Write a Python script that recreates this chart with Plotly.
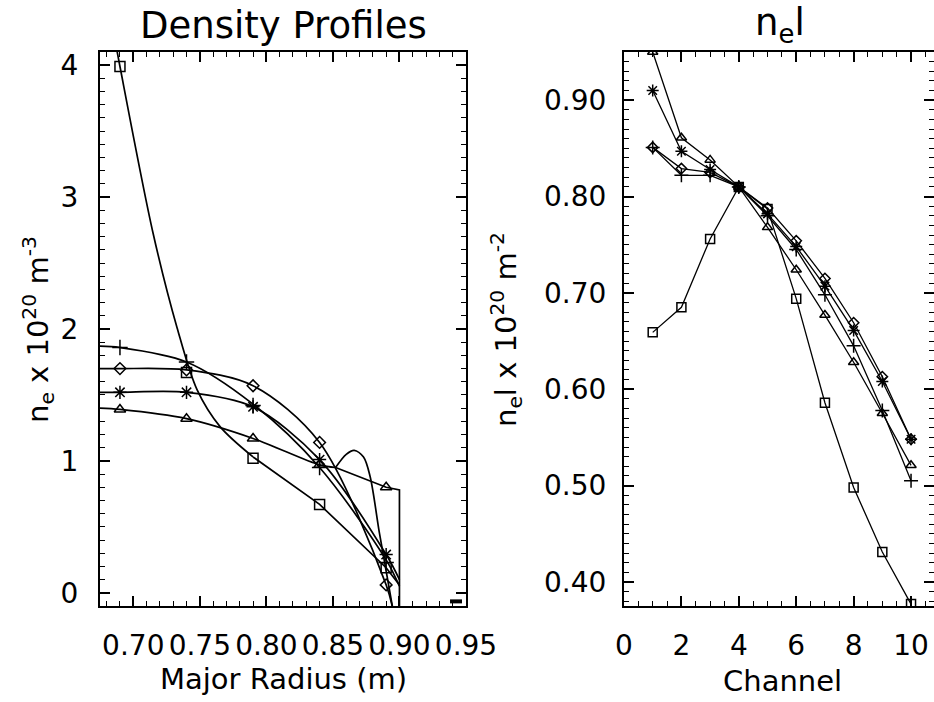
import plotly.graph_objects as go

# ---------------- Left panel: density profiles ----------------
radius = [0.69, 0.74, 0.79, 0.84, 0.89]
dens_square = [3.99, 1.67, 1.02, 0.67, 0.19]
dens_diamond = [1.70, 1.69, 1.57, 1.14, 0.06]
dens_star = [1.52, 1.52, 1.41, 1.01, 0.29]
dens_triangle = [1.39, 1.32, 1.17, 0.97, 0.80]
dens_plus = [1.86, 1.75, 1.42, 0.95, 0.23]

# fitted profile curves (knots)
fit_plus_r = [0.675, 0.69, 0.74, 0.79, 0.84, 0.89, 0.90]
fit_plus_n = [1.87, 1.86, 1.75, 1.43, 0.95, 0.25, 0.05]
fit_diamond_r = [0.675, 0.69, 0.74, 0.79, 0.84, 0.89, 0.895]
fit_diamond_n = [1.70, 1.70, 1.69, 1.57, 1.14, 0.06, -0.12]
fit_star_r = [0.675, 0.69, 0.74, 0.79, 0.84, 0.89, 0.90]
fit_star_n = [1.52, 1.52, 1.52, 1.41, 1.01, 0.29, 0.10]
fit_tri_r = [0.675, 0.69, 0.74, 0.79, 0.84, 0.852]
fit_tri_n = [1.40, 1.39, 1.32, 1.17, 0.97, 0.95]
tail_tri_r = [0.852, 0.89, 0.90, 0.90]
tail_tri_n = [0.95, 0.80, 0.78, -0.12]
bump_r = [0.852, 0.860, 0.866, 0.873, 0.878, 0.885, 0.895]
bump_n = [0.95, 1.05, 1.08, 1.03, 0.88, 0.45, -0.12]
fit_sq_r = [0.687, 0.69, 0.7148, 0.7329, 0.7479, 0.7652, 0.79]
fit_sq_n = [4.15, 3.99, 2.73, 2.01, 1.54, 1.26, 1.03]
tail_sq_r = [0.79, 0.84, 0.89, 0.90]
tail_sq_n = [1.03, 0.67, 0.19, 0.06]
blob_r = [0.938, 0.947]
blob_n = [-0.065, -0.065]

# ---------------- Right panel: line integrated density ----------------
channel = [1, 2, 3, 4, 5, 6, 7, 8, 9, 10]
nl_square = [0.659, 0.685, 0.756, 0.810, 0.787, 0.694, 0.586, 0.498, 0.431, 0.377]
nl_triangle = [0.950, 0.861, 0.838, 0.810, 0.768, 0.724, 0.677, 0.628, 0.575, 0.521]
nl_star = [0.910, 0.847, 0.828, 0.810, 0.782, 0.748, 0.707, 0.661, 0.608, 0.548]
nl_diamond = [0.851, 0.829, 0.825, 0.810, 0.788, 0.754, 0.715, 0.669, 0.613, 0.548]
nl_plus = [0.851, 0.822, 0.822, 0.810, 0.780, 0.745, 0.698, 0.645, 0.578, 0.505]

FONT = "DejaVu Sans"
BLACK = "black"

fig = go.Figure()

def curve(x, y, xa, ya, shape="spline"):
    fig.add_trace(go.Scatter(x=x, y=y, mode="lines", xaxis=xa, yaxis=ya,
                             line=dict(color=BLACK, width=1.7, shape=shape, smoothing=0.9),
                             showlegend=False, hoverinfo="skip"))

def marks(x, y, sym, size, xa, ya, mode="markers"):
    fig.add_trace(go.Scatter(x=x, y=y, mode=mode, xaxis=xa, yaxis=ya,
                             line=dict(color=BLACK, width=1.3),
                             marker=dict(symbol=sym, size=size, color=BLACK,
                                         line=dict(color=BLACK, width=1.5)),
                             showlegend=False))

# left curves
curve(fit_plus_r, fit_plus_n, "x", "y")
curve(fit_diamond_r, fit_diamond_n, "x", "y")
curve(fit_star_r, fit_star_n, "x", "y")
curve(fit_tri_r, fit_tri_n, "x", "y")
curve(tail_tri_r, tail_tri_n, "x", "y", shape="linear")
curve(bump_r, bump_n, "x", "y")
curve(fit_sq_r, fit_sq_n, "x", "y")
curve(tail_sq_r, tail_sq_n, "x", "y", shape="linear")
fig.add_trace(go.Scatter(x=blob_r, y=blob_n, mode="lines", line=dict(color=BLACK, width=4),
                         showlegend=False, hoverinfo="skip"))

# left markers
marks(radius, dens_square, "square-open", 10, "x", "y")
marks(radius, dens_diamond, "diamond-open", 9, "x", "y")
marks(radius, dens_star, "asterisk-open", 11, "x", "y")
marks(radius, dens_triangle, "triangle-up-open", 10, "x", "y")
marks(radius, dens_plus, "cross-thin-open", 11, "x", "y")

# right panel
marks(channel, nl_square, "square-open", 9, "x2", "y2", mode="lines+markers")
marks(channel, nl_triangle, "triangle-up-open", 9, "x2", "y2", mode="lines+markers")
marks(channel, nl_star, "asterisk-open", 10, "x2", "y2", mode="lines+markers")
marks(channel, nl_diamond, "diamond-open", 8, "x2", "y2", mode="lines+markers")
marks(channel, nl_plus, "cross-thin-open", 10, "x2", "y2", mode="lines+markers")

W, H = 934, 702
def px(x):
    return x / W
def py(y):
    return 1 - y / H

axis_common = dict(showline=True, linecolor=BLACK, linewidth=2, mirror="ticks",
                   ticks="inside", ticklen=10, tickwidth=1.5, tickcolor=BLACK,
                   showgrid=False, zeroline=False, automargin=False,
                   tickfont=dict(family=FONT, size=28, color=BLACK))

fig.update_layout(
    width=W, height=H,
    margin=dict(l=0, r=0, t=0, b=0),
    paper_bgcolor="white", plot_bgcolor="white",
    font=dict(family=FONT, color=BLACK),
    xaxis=dict(domain=[px(100), px(466)], range=[0.675, 0.95], tickvals=[0.70, 0.75, 0.80, 0.85, 0.90, 0.95],
               ticktext=["0.70", "0.75", "0.80", "0.85", "0.90", "0.95"], ticklabelstandoff=13,
               minor=dict(dtick=0.01, ticklen=5, tickcolor=BLACK, ticks="inside", tickwidth=1.2),
               anchor="y", **axis_common),
    yaxis=dict(domain=[py(606), py(52)], range=[-0.1, 4.1], tickvals=[0, 1, 2, 3, 4],
               ticklabelstandoff=14,
               minor=dict(dtick=0.1, ticklen=5, tickcolor=BLACK, ticks="inside", tickwidth=1.2),
               anchor="x", **axis_common),
    xaxis2=dict(domain=[px(624), 1.0], range=[0, 10.8], tickvals=[0, 2, 4, 6, 8, 10],
                ticklabelstandoff=13,
                minor=dict(dtick=0.5, ticklen=5, tickcolor=BLACK, ticks="inside", tickwidth=1.2),
                anchor="y2", **axis_common),
    yaxis2=dict(domain=[py(606), py(52)], range=[0.375, 0.95],
                tickvals=[0.40, 0.50, 0.60, 0.70, 0.80, 0.90],
                ticktext=["0.40", "0.50", "0.60", "0.70", "0.80", "0.90"], ticklabelstandoff=10,
                minor=dict(dtick=0.01, ticklen=5, tickcolor=BLACK, ticks="inside", tickwidth=1.2),
                anchor="x2", **axis_common),
)

ann = [
    dict(text="Density Profiles", x=px(283), y=py(25), size=37, angle=0),
    dict(text="n<sub>e</sub>l", x=px(780), y=py(25), size=37, angle=0),
    dict(text="Major Radius (m)", x=px(283), y=py(679), size=29, angle=0),
    dict(text="Channel", x=px(782), y=py(681), size=29, angle=0),
    dict(text="n<sub>e</sub> x 10<sup>20</sup> m<sup>-3</sup>", x=px(38), y=py(330), size=29, angle=-90),
    dict(text="n<sub>e</sub>l x 10<sup>20</sup> m<sup>-2</sup>", x=px(506), y=py(330), size=29, angle=-90),
]
for a in ann:
    fig.add_annotation(text=a["text"], x=a["x"], y=a["y"], xref="paper", yref="paper",
                       xanchor="center", yanchor="middle", showarrow=False, textangle=a["angle"],
                       font=dict(family=FONT, size=a["size"], color=BLACK))

fig.write_html("out.html")
